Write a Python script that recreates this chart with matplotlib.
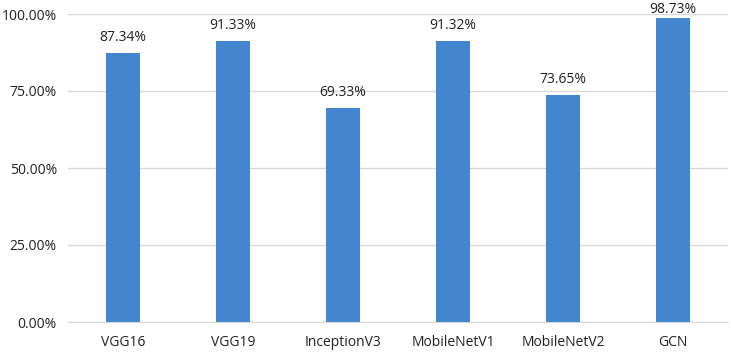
import matplotlib.pyplot as plt
import numpy as np

models = ['VGG16', 'VGG19', 'InceptionV3', 'MobileNetV1', 'MobileNetV2', 'GCN']
accuracy = [87.34, 91.33, 69.33, 91.32, 73.65, 98.73]
yticks = [0, 25, 50, 75, 100]

plt.rcParams['font.family'] = ['Open Sans', 'DejaVu Sans']

fig = plt.figure(figsize=(7.31, 3.52), dpi=100)
ax = fig.add_axes([68 / 731, 30 / 352, 660 / 731, 308 / 352])

x = np.arange(len(models))
ax.bar(x, accuracy, width=0.31, color='#4485CF', zorder=3)
# labels sit above the bars, but are kept inside the plot area like Excel does
for xi, v in zip(x, accuracy):
    ax.text(xi, min(v + 3.9, 100.3), '%.2f%%' % v, ha='center', va='baseline',
            fontsize=10, color='#222222', clip_on=False)

ax.set_xlim(-0.5, len(models) - 0.5)
ax.set_ylim(0, 100)
ax.set_yticks(yticks)
ax.set_yticklabels(['%.2f%%' % t for t in yticks], fontsize=10, color='#222222')
ax.set_xticks(x)
ax.set_xticklabels(models, fontsize=10, color='#222222')
ax.tick_params(length=0, pad=8)
ax.tick_params(axis='x', pad=9)
ax.grid(axis='y', color='#D9D9D9', linewidth=1, zorder=0)
for s in ['top', 'right', 'left']:
    ax.spines[s].set_visible(False)
ax.spines['bottom'].set_color('#D9D9D9')

fig.savefig('out.png', dpi=100)
